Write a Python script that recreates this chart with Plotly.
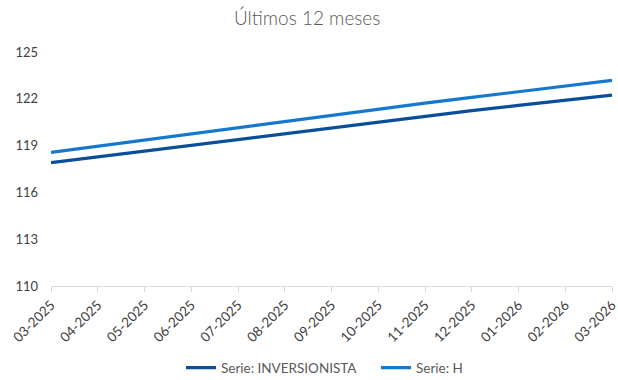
import plotly.graph_objects as go

# Monthly periods (MM-YYYY)
months = ["03-2025", "04-2025", "05-2025", "06-2025", "07-2025", "08-2025", "09-2025",
          "10-2025", "11-2025", "12-2025", "01-2026", "02-2026", "03-2026"]

# Series values
serie_inversionista = [117.91, 118.28, 118.66, 119.04, 119.42, 119.79, 120.16,
                       120.53, 120.89, 121.24, 121.58, 121.91, 122.24]
serie_h = [118.57, 118.97, 119.37, 119.77, 120.17, 120.56, 120.95,
           121.34, 121.72, 122.09, 122.46, 122.82, 123.18]

y_ticks = [110, 113, 116, 119, 122, 125]

x_pos = list(range(len(months)))

fig = go.Figure()
fig.add_trace(go.Scatter(
    x=x_pos, y=serie_inversionista, mode="lines", name="Serie: INVERSIONISTA",
    line=dict(color="#0B4E98", width=3.2),
))
fig.add_trace(go.Scatter(
    x=x_pos, y=serie_h, mode="lines", name="Serie: H",
    line=dict(color="#1479CE", width=3.2),
))

font_family = "Lato, 'Liberation Sans', sans-serif"

fig.update_layout(
    width=618, height=380,
    margin=dict(l=51, r=6, t=52, b=94, autoexpand=False),
    paper_bgcolor="white", plot_bgcolor="white",
    font=dict(family=font_family, color="#404040", size=13),
    title=dict(text="Últimos 12 meses", x=0.497, xanchor="center", y=0.952, yanchor="middle",
               font=dict(size=19, color="#595959", family=font_family, weight=300)),
    showlegend=True,
    legend=dict(orientation="h", xref="container", x=181 / 618, xanchor="left",
                yref="container", y=0.032, yanchor="middle",
                entrywidth=150, entrywidthmode="pixels",
                font=dict(size=13.5, color="#595959"), itemwidth=30,
                traceorder="normal"),
    xaxis=dict(
        range=[0, len(months) - 1], tickmode="array", tickvals=x_pos, ticktext=months,
        tickangle=-45, showgrid=False, zeroline=False, ticklabeloverflow="allow",
        showline=True, linecolor="#D9D9D9", linewidth=1,
        ticks="outside", ticklen=5, tickcolor="#D9D9D9",
        tickfont=dict(size=13.5, color="#404040"),
    ),
    yaxis=dict(
        range=[110, 125], tickmode="array", tickvals=y_ticks,
        showgrid=False, zeroline=False, showline=False,
        ticks="", ticklabelstandoff=12,
        tickfont=dict(size=13, color="#404040"),
    ),
)

fig.write_html("out.html")
